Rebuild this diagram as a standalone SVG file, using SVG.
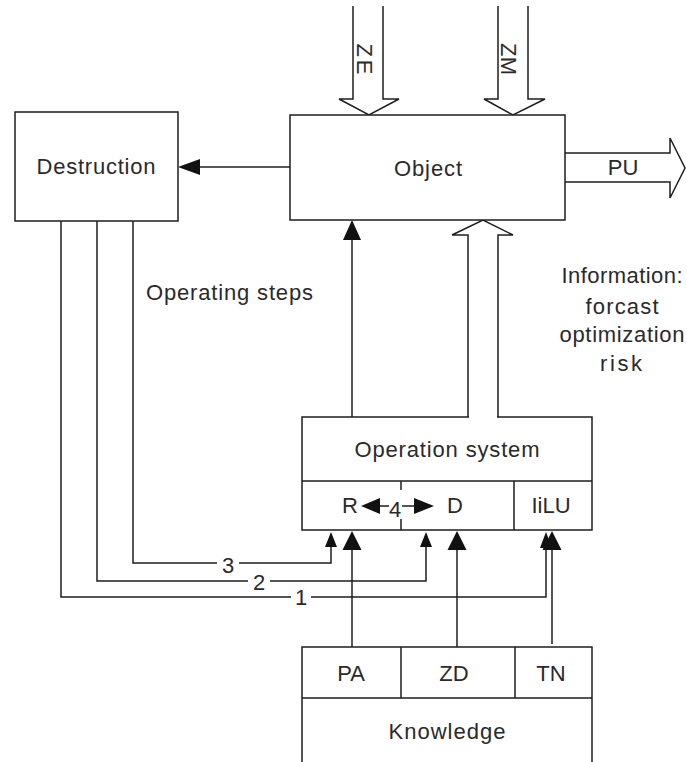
<svg xmlns="http://www.w3.org/2000/svg" width="687" height="762" viewBox="0 0 687 762">
<style>
  .box{fill:#fff;stroke:#1e1e1e;stroke-width:1.5}
  .ln{fill:none;stroke:#1e1e1e;stroke-width:1.5}
  .hollow{fill:#fff;stroke:#1e1e1e;stroke-width:1.5;stroke-linejoin:miter}
  .head{fill:#111;stroke:none}
  text{font-family:"Liberation Sans",Arial,sans-serif;font-size:22px;fill:#2a2a2a}
  .c{text-anchor:middle}
</style>
<rect width="687" height="762" fill="#fff"/>

<g id="connectors">
  <!-- ZE input -->
  <path class="hollow" d="M353,6 V99 H339 L369,115 L399,99 H383 V6"/>
  <text class="c" transform="translate(357,59) rotate(90)" textLength="31" lengthAdjust="spacing">ZE</text>
  <!-- ZM input -->
  <path class="hollow" d="M498,6 V99 H484 L513,115 L545,99 H528 V6"/>
  <text class="c" transform="translate(501,59) rotate(90)" textLength="32" lengthAdjust="spacing">ZM</text>
  <!-- PU output -->
  <path class="hollow" d="M565,153 H670 V138 L685,168 L670,198 V182 H565"/>
  <text class="c" x="623" y="175">PU</text>
  <!-- Object -> Destruction -->
  <path class="ln" d="M290,167 H195"/>
  <polygon class="head" points="178,167 200,159 200,175"/>
  <!-- Operation system -> Object -->
  <path class="ln" d="M352,417 V236"/>
  <polygon class="head" points="352,220 343,240 361,240"/>
  <path class="hollow" d="M468,417 V235 H452 L483,220 L513,235 H498 V417"/>
  <!-- feedback lines 3,2,1 -->
  <path class="ln" d="M133,221 V563 H217 M239,563 H331 V544"/>
  <polygon class="head" points="331,532 325,547 337,547"/>
  <text class="c" x="228" y="573">3</text>
  <path class="ln" d="M97,221 V581 H248 M270,581 H426 V544"/>
  <polygon class="head" points="426,532 420,547 432,547"/>
  <text class="c" x="259" y="590">2</text>
  <path class="ln" d="M61,221 V597 H291 M311,597 H546 V544"/>
  <polygon class="head" points="546,532 540,548 552,548"/>
  <text class="c" x="301" y="605">1</text>
  <!-- Knowledge -> Operation system -->
  <path class="ln" d="M352,647 V546"/>
  <polygon class="head" points="352,531 342.5,550 361.5,550"/>
  <path class="ln" d="M457,647 V546"/>
  <polygon class="head" points="457,531 447.5,550 466.5,550"/>
  <path class="ln" d="M552,644 V546"/>
  <polygon class="head" points="552,531 542.5,550 561.5,550"/>
</g>

<g id="object">
  <rect class="box" x="290" y="115" width="275" height="105"/>
  <text class="c" x="428" y="176" textLength="68" lengthAdjust="spacing">Object</text>
</g>

<g id="destruction">
  <rect class="box" x="15" y="112" width="163" height="109"/>
  <text class="c" x="96" y="174" textLength="119" lengthAdjust="spacing">Destruction</text>
</g>

<g id="operating-steps">
  <text x="146" y="300" textLength="167" lengthAdjust="spacing">Operating steps</text>
</g>

<g id="information">
  <text class="c" x="622" y="283" textLength="121" lengthAdjust="spacing">Information:</text>
  <text class="c" x="622" y="314" textLength="73" lengthAdjust="spacing">forcast</text>
  <text class="c" x="622" y="342" textLength="125" lengthAdjust="spacing">optimization</text>
  <text class="c" x="621" y="371" textLength="42" lengthAdjust="spacing">risk</text>
</g>

<g id="operation-system">
  <path class="box" d="M469,417 H302 V530 H592 V417 H497"/>
  <path class="ln" d="M302,481 H592 M514,481 V530 M401,481 V490 M401,519 V530"/>
  <text class="c" x="447" y="457" textLength="185" lengthAdjust="spacing">Operation system</text>
  <text class="c" x="350" y="513">R</text>
  <text class="c" x="455" y="513">D</text>
  <text class="c" x="551" y="513">IiLU</text>
  <text class="c" x="395" y="517">4</text>
  <path class="ln" d="M378,506 H389 M402,506 H416"/>
  <polygon class="head" points="361,506 380,498 380,514"/>
  <polygon class="head" points="434,506 414,498 414,514"/>
</g>

<g id="knowledge">
  <path class="box" d="M302,775 V647 H592 V775"/>
  <path class="ln" d="M302,698 H592 M401,647 V698 M515,647 V698"/>
  <text class="c" x="351" y="681">PA</text>
  <text class="c" x="454" y="681">ZD</text>
  <text class="c" x="551" y="681">TN</text>
  <text class="c" x="447" y="739" textLength="117" lengthAdjust="spacing">Knowledge</text>
</g>
</svg>
